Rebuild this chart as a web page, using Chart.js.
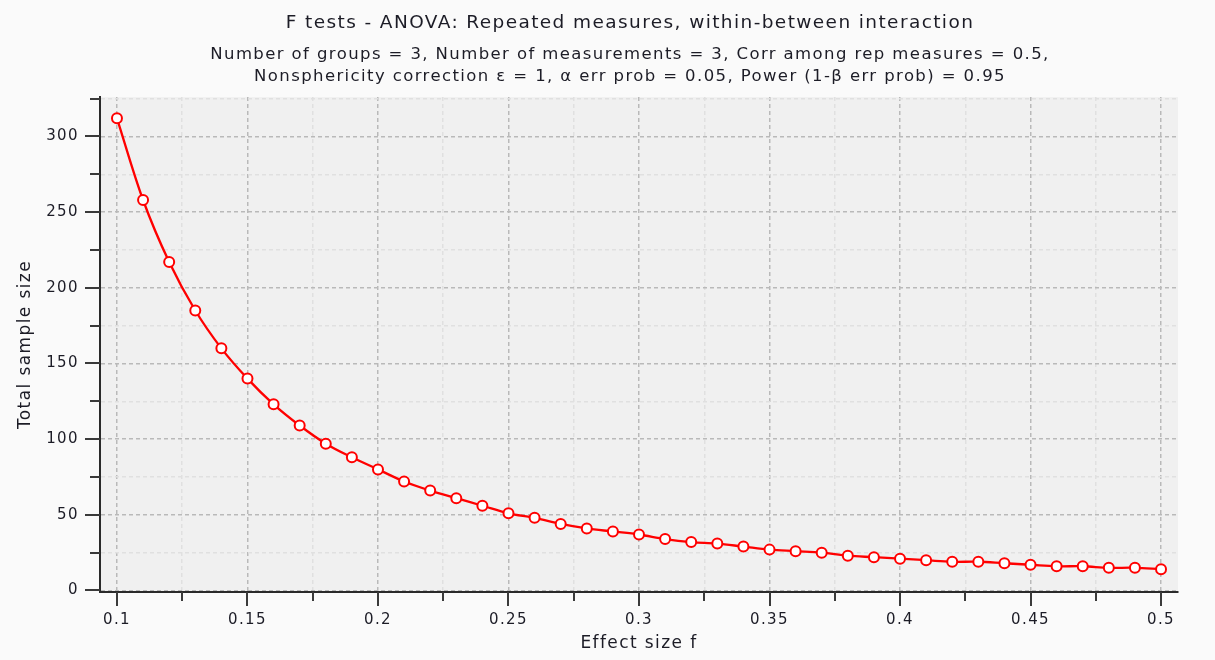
<!DOCTYPE html>
<html>
<head>
<meta charset="utf-8">
<script src="https://cdn.jsdelivr.net/npm/chart.js@4.4.1/dist/chart.umd.min.js"></script>
<style>
  html, body { margin: 0; padding: 0; background: #fafafa; }
  #wrap { width: 1215px; height: 660px; }
</style>
</head>
<body>
<div id="wrap"><canvas id="powerChart" width="1215" height="660"></canvas></div>
<script>
const effectSizes = [0.10, 0.11, 0.12, 0.13, 0.14, 0.15, 0.16, 0.17, 0.18, 0.19,
                     0.20, 0.21, 0.22, 0.23, 0.24, 0.25, 0.26, 0.27, 0.28, 0.29,
                     0.30, 0.31, 0.32, 0.33, 0.34, 0.35, 0.36, 0.37, 0.38, 0.39,
                     0.40, 0.41, 0.42, 0.43, 0.44, 0.45, 0.46, 0.47, 0.48, 0.49, 0.50];
const sampleSizes = [312, 258, 217, 185, 160, 140, 123, 109, 97, 88,
                     80, 72, 66, 61, 56, 51, 48, 44, 41, 39,
                     37, 34, 32, 31, 29, 27, 26, 25, 23, 22,
                     21, 20, 19, 19, 18, 17, 16, 16, 15, 15, 14];

// tick values
const xMajorTicks = [0.1, 0.15, 0.2, 0.25, 0.3, 0.35, 0.4, 0.45, 0.5];
const xMinorTicks = [0.125, 0.175, 0.225, 0.275, 0.325, 0.375, 0.425, 0.475];
const yMajorTicks = [0, 50, 100, 150, 200, 250, 300];
const yMinorTicks = [25, 75, 125, 175, 225, 275, 325];

const titleText = 'F tests - ANOVA: Repeated measures, within-between interaction';
const subtitleLines = [
    'Number of groups = 3, Number of measurements = 3, Corr among rep measures = 0.5,',
    'Nonsphericity correction \u03B5 = 1, \u03B1 err prob = 0.05, Power (1-\u03B2 err prob) = 0.95'
];

const FONT = 'DejaVu Sans';
const TEXT = '#1c1c26';

function isMajor(list, v) {
    return list.some(t => Math.abs(t - v) < 1e-9);
}

// grey plot background + tick marks of two lengths, wider letter spacing
const plotDecor = {
    id: 'plotDecor',
    beforeUpdate(chart) {
        chart.ctx.letterSpacing = '1.4px';
    },
    afterLayout(chart) {
        // the original centres its headings a little right of the canvas centre
        chart.boxes.forEach(b => {
            if (!b.axis && b.options && b.options.text !== undefined) {
                b.left += 36;
                b.right += 36;
            }
        });
    },
    beforeDraw(chart) {
        const { ctx, chartArea: a } = chart;
        ctx.letterSpacing = '1.4px';
        ctx.save();
        ctx.fillStyle = '#f0f0f0';
        ctx.fillRect(a.left, a.top, a.right - a.left, a.bottom - a.top);
        ctx.restore();
    },
    afterDraw(chart) {
        const { ctx, chartArea: a, scales } = chart;
        ctx.save();
        ctx.strokeStyle = '#3a3a3a';
        ctx.lineWidth = 2;
        ctx.beginPath();
        scales.x.ticks.forEach(t => {
            const px = Math.round(scales.x.getPixelForValue(t.value));
            const len = isMajor(xMajorTicks, t.value) ? 14 : 9;
            ctx.moveTo(px, a.bottom);
            ctx.lineTo(px, a.bottom + len);
        });
        scales.y.ticks.forEach(t => {
            const py = Math.round(scales.y.getPixelForValue(t.value));
            const len = isMajor(yMajorTicks, t.value) ? 15 : 10;
            ctx.moveTo(a.left, py);
            ctx.lineTo(a.left - len, py);
        });
        ctx.stroke();
        ctx.restore();
    }
};

new Chart(document.getElementById('powerChart'), {
    type: 'line',
    data: {
        datasets: [{
            data: effectSizes.map((f, i) => ({ x: f, y: sampleSizes[i] })),
            borderColor: '#ff0000',
            borderWidth: 2.3,
            tension: 0.35,
            pointRadius: 5,
            pointBorderWidth: 2,
            pointBackgroundColor: '#ffffff',
            pointBorderColor: '#ff0000'
        }]
    },
    options: {
        responsive: false,
        animation: false,
        layout: { padding: { left: 10, right: 37, top: 0, bottom: 0 } },
        plugins: {
            legend: { display: false },
            tooltip: { enabled: false },
            title: {
                display: true,
                text: titleText,
                color: TEXT,
                font: { family: FONT, size: 18.5, weight: 'normal', lineHeight: 1.2 },
                padding: { top: 12, bottom: 10 }
            },
            subtitle: {
                display: true,
                text: subtitleLines,
                color: TEXT,
                font: { family: FONT, size: 16.5, weight: 'normal', lineHeight: 1.33 },
                padding: { top: 0, bottom: 9 }
            }
        },
        scales: {
            x: {
                type: 'linear',
                min: 0.0935,
                max: 0.5065,
                afterBuildTicks(scale) {
                    scale.ticks = xMajorTicks.concat(xMinorTicks).sort((a, b) => a - b).map(v => ({ value: v }));
                },
                afterFit(scale) { scale.height = 68; },
                ticks: {
                    color: TEXT,
                    font: { family: FONT, size: 15 },
                    padding: 5,
                    maxRotation: 0,
                    autoSkip: false,
                    callback: v => isMajor(xMajorTicks, v) ? String(v) : ''
                },
                grid: {
                    color: c => isMajor(xMajorTicks, c.tick.value) ? '#b9b9b9' : '#e0e0e0',
                    lineWidth: 1.5,
                    tickLength: 14,
                    tickColor: 'rgba(0,0,0,0)'
                },
                border: { display: true, color: '#2a2a2a', width: 2, dash: [4, 3] },
                title: {
                    display: true,
                    text: 'Effect size f',
                    color: TEXT,
                    font: { family: FONT, size: 17 },
                    padding: { top: 2, bottom: 6 }
                }
            },
            y: {
                type: 'linear',
                min: -1,
                max: 326,
                afterBuildTicks(scale) {
                    scale.ticks = yMajorTicks.concat(yMinorTicks).sort((a, b) => a - b).map(v => ({ value: v }));
                },
                afterFit(scale) { scale.width = 90; },
                ticks: {
                    color: TEXT,
                    font: { family: FONT, size: 15 },
                    padding: 6,
                    autoSkip: false,
                    callback: v => isMajor(yMajorTicks, v) ? String(v) : ''
                },
                grid: {
                    color: c => isMajor(yMajorTicks, c.tick.value) ? '#b9b9b9' : '#e0e0e0',
                    lineWidth: 1.5,
                    tickLength: 15,
                    tickColor: 'rgba(0,0,0,0)'
                },
                border: { display: true, color: '#2a2a2a', width: 2, dash: [4, 3] },
                title: {
                    display: true,
                    text: 'Total sample size',
                    color: TEXT,
                    font: { family: FONT, size: 17 },
                    padding: { top: 5, bottom: 4 }
                }
            }
        }
    },
    plugins: [plotDecor]
});
</script>
</body>
</html>
